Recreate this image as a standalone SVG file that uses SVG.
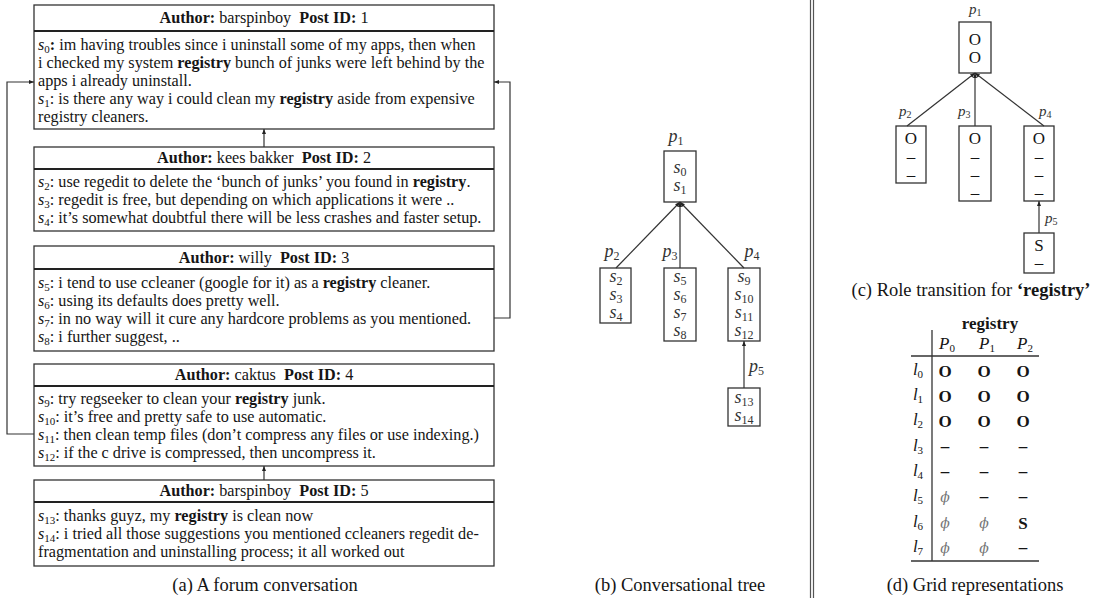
<svg xmlns="http://www.w3.org/2000/svg" width="1097" height="598" viewBox="0 0 1097 598">
<style>
text{font-family:"Liberation Serif","Times New Roman",serif;fill:#151515}
.t{font-size:16.2px}
.h{font-size:16.2px;text-anchor:middle}
.b{font-weight:bold}
.i{font-style:italic}
.sub{font-size:11px}
.box{fill:#fff;stroke:#333;stroke-width:1.3}
.sep{stroke:#222;stroke-width:2}
.cap{font-size:18.5px;text-anchor:middle}
.m{font-size:18px;font-style:italic;text-anchor:middle;fill:#333}
.ms{font-size:12px;font-style:normal}
.pl{font-size:18px;font-style:italic;fill:#333}
.pc{font-size:15px;font-style:italic;fill:#333}
.pcs{font-size:10px;font-style:normal}
.r{font-size:17px;text-anchor:middle}
.c{font-size:17px;text-anchor:middle}
.ph{fill:#777;font-style:italic;font-family:"DejaVu Serif","Liberation Serif",serif;font-size:14px}
.conn{fill:none;stroke:#333;stroke-width:1.2}
.tl{stroke:#333;stroke-width:1.3}
</style>
<defs>
<marker id="ah" viewBox="0 0 10 10" refX="10" refY="5" markerWidth="5" markerHeight="5" orient="auto" markerUnits="userSpaceOnUse"><path d="M0,1 L10,5 L0,9 z" fill="#222"/></marker>
</defs>

<!-- separator -->
<g id="separator"><line x1="810.5" y1="0" x2="810.5" y2="598" stroke="#555" stroke-width="1.2"/><line x1="813.5" y1="0" x2="813.5" y2="598" stroke="#555" stroke-width="1.2"/></g>

<!-- (a) forum conversation -->
<g id="post1">
<rect class="box" x="34" y="5" width="460" height="124"/>
<line class="sep" x1="34" y1="31" x2="494" y2="31"/>
<text class="h" x="264" y="23"><tspan class="b">Author:</tspan> barspinboy&#160; <tspan class="b">Post ID:</tspan> 1</text>
<text class="t" x="38" y="50"><tspan class="i">s</tspan><tspan class="sub" dy="3">0</tspan><tspan class="b" dy="-3">:</tspan> im having troubles since i uninstall some of my apps, then when</text>
<text class="t" x="38" y="68">i checked my system <tspan class="b">registry</tspan> bunch of junks were left behind by the</text>
<text class="t" x="38" y="86">apps i already uninstall.</text>
<text class="t" x="38" y="104"><tspan class="i">s</tspan><tspan class="sub" dy="3">1</tspan><tspan dy="-3">:</tspan> is there any way i could clean my <tspan class="b">registry</tspan> aside from expensive</text>
<text class="t" x="38" y="122">registry cleaners.</text>
</g>

<g id="post2">
<rect class="box" x="34" y="147" width="460" height="84"/>
<line class="sep" x1="34" y1="169" x2="494" y2="169"/>
<text class="h" x="264" y="163"><tspan class="b">Author:</tspan> kees bakker&#160; <tspan class="b">Post ID:</tspan> 2</text>
<text class="t" x="38" y="187"><tspan class="i">s</tspan><tspan class="sub" dy="3">2</tspan><tspan dy="-3">:</tspan> use regedit to delete the ‘bunch of junks’ you found in <tspan class="b">registry</tspan>.</text>
<text class="t" x="38" y="205"><tspan class="i">s</tspan><tspan class="sub" dy="3">3</tspan><tspan dy="-3">:</tspan> regedit is free, but depending on which applications it were ..</text>
<text class="t" x="38" y="223"><tspan class="i">s</tspan><tspan class="sub" dy="3">4</tspan><tspan dy="-3">:</tspan> it’s somewhat doubtful there will be less crashes and faster setup.</text>
</g>

<g id="post3">
<rect class="box" x="34" y="246" width="460" height="105"/>
<line class="sep" x1="34" y1="269" x2="494" y2="269"/>
<text class="h" x="264" y="263"><tspan class="b">Author:</tspan> willy&#160; <tspan class="b">Post ID:</tspan> 3</text>
<text class="t" x="38" y="288"><tspan class="i">s</tspan><tspan class="sub" dy="3">5</tspan><tspan dy="-3">:</tspan> i tend to use ccleaner (google for it) as a <tspan class="b">registry</tspan> cleaner.</text>
<text class="t" x="38" y="306"><tspan class="i">s</tspan><tspan class="sub" dy="3">6</tspan><tspan dy="-3">:</tspan> using its defaults does pretty well.</text>
<text class="t" x="38" y="324"><tspan class="i">s</tspan><tspan class="sub" dy="3">7</tspan><tspan dy="-3">:</tspan> in no way will it cure any hardcore problems as you mentioned.</text>
<text class="t" x="38" y="342"><tspan class="i">s</tspan><tspan class="sub" dy="3">8</tspan><tspan dy="-3">:</tspan> i further suggest, ..</text>
</g>

<g id="post4">
<rect class="box" x="34" y="364" width="460" height="102"/>
<line class="sep" x1="34" y1="386" x2="494" y2="386"/>
<text class="h" x="264" y="380"><tspan class="b">Author:</tspan> caktus&#160; <tspan class="b">Post ID:</tspan> 4</text>
<text class="t" x="38" y="404"><tspan class="i">s</tspan><tspan class="sub" dy="3">9</tspan><tspan dy="-3">:</tspan> try regseeker to clean your <tspan class="b">registry</tspan> junk.</text>
<text class="t" x="38" y="422"><tspan class="i">s</tspan><tspan class="sub" dy="3">10</tspan><tspan dy="-3">:</tspan> it’s free and pretty safe to use automatic.</text>
<text class="t" x="38" y="440"><tspan class="i">s</tspan><tspan class="sub" dy="3">11</tspan><tspan dy="-3">:</tspan> then clean temp files (don’t compress any files or use indexing.)</text>
<text class="t" x="38" y="458"><tspan class="i">s</tspan><tspan class="sub" dy="3">12</tspan><tspan dy="-3">:</tspan> if the c drive is compressed, then uncompress it.</text>
</g>

<g id="post5">
<rect class="box" x="34" y="480" width="460" height="86"/>
<line class="sep" x1="34" y1="502" x2="494" y2="502"/>
<text class="h" x="264" y="496"><tspan class="b">Author:</tspan> barspinboy&#160; <tspan class="b">Post ID:</tspan> 5</text>
<text class="t" x="38" y="521"><tspan class="i">s</tspan><tspan class="sub" dy="3">13</tspan><tspan dy="-3">:</tspan> thanks guyz, my <tspan class="b">registry</tspan> is clean now</text>
<text class="t" x="38" y="539"><tspan class="i">s</tspan><tspan class="sub" dy="3">14</tspan><tspan dy="-3">:</tspan> i tried all those suggestions you mentioned ccleaners regedit de-</text>
<text class="t" x="38" y="557">fragmentation and uninstalling process; it all worked out</text>
</g>

<g id="connectors-a">
<line class="conn" x1="264" y1="147" x2="264" y2="129" marker-end="url(#ah)"/>
<line class="conn" x1="264" y1="480" x2="264" y2="466" marker-end="url(#ah)"/>
<path class="conn" d="M34,434 H7 V82 H34" marker-end="url(#ah)"/>
<path class="conn" d="M494,318 H510 V82 H494" marker-end="url(#ah)"/>
</g>
<text class="cap" x="265" y="591">(a) A forum conversation</text>

<!-- (b) conversational tree -->
<g id="tb-p1">
<text class="m" x="676" y="142">p<tspan class="ms" dy="3">1</tspan></text>
<rect class="box" x="664" y="151" width="32" height="51"/>
<text class="m" x="680" y="173">s<tspan class="ms" dy="3">0</tspan></text>
<text class="m" x="680" y="191">s<tspan class="ms" dy="3">1</tspan></text>
</g>
<g id="tb-p2">
<text class="m" x="612" y="257">p<tspan class="ms" dy="3">2</tspan></text>
<rect class="box" x="600" y="268" width="31" height="55"/>
<text class="m" x="616" y="282">s<tspan class="ms" dy="3">2</tspan></text>
<text class="m" x="616" y="300">s<tspan class="ms" dy="3">3</tspan></text>
<text class="m" x="616" y="318">s<tspan class="ms" dy="3">4</tspan></text>
</g>
<g id="tb-p3">
<text class="m" x="670" y="257">p<tspan class="ms" dy="3">3</tspan></text>
<rect class="box" x="664" y="268" width="32" height="73"/>
<text class="m" x="680" y="282">s<tspan class="ms" dy="3">5</tspan></text>
<text class="m" x="680" y="300">s<tspan class="ms" dy="3">6</tspan></text>
<text class="m" x="680" y="318">s<tspan class="ms" dy="3">7</tspan></text>
<text class="m" x="680" y="336">s<tspan class="ms" dy="3">8</tspan></text>
</g>
<g id="tb-p4">
<text class="m" x="752" y="257">p<tspan class="ms" dy="3">4</tspan></text>
<rect class="box" x="728" y="268" width="32" height="73"/>
<text class="m" x="744" y="282">s<tspan class="ms" dy="3">9</tspan></text>
<text class="m" x="744" y="300">s<tspan class="ms" dy="3">10</tspan></text>
<text class="m" x="744" y="318">s<tspan class="ms" dy="3">11</tspan></text>
<text class="m" x="744" y="336">s<tspan class="ms" dy="3">12</tspan></text>
</g>
<g id="tb-p5">
<text class="pl" x="749" y="372">p<tspan class="ms" dy="3">5</tspan></text>
<rect class="box" x="728" y="388" width="32" height="38"/>
<text class="m" x="744" y="403">s<tspan class="ms" dy="3">13</tspan></text>
<text class="m" x="744" y="421">s<tspan class="ms" dy="3">14</tspan></text>
</g>
<g id="connectors-b">
<line class="conn" x1="616" y1="268" x2="680" y2="202" marker-end="url(#ah)"/>
<line class="conn" x1="680" y1="268" x2="680" y2="202" marker-end="url(#ah)"/>
<line class="conn" x1="744" y1="268" x2="680" y2="202" marker-end="url(#ah)"/>
<line class="conn" x1="744" y1="388" x2="744" y2="341" marker-end="url(#ah)"/>
</g>
<text class="cap" x="680" y="591">(b) Conversational tree</text>

<!-- (c) role transition -->
<g id="tc-p1">
<text class="pc" x="969" y="14">p<tspan class="pcs" dy="2">1</tspan></text>
<rect class="box" x="959" y="22" width="32" height="51"/>
<text class="c" x="975" y="45">O</text>
<text class="c" x="975" y="63">O</text>
</g>
<g id="tc-p2">
<text class="pc" x="899" y="116">p<tspan class="pcs" dy="2">2</tspan></text>
<rect class="box" x="896" y="126" width="30" height="57"/>
<text class="c" x="911" y="144">O</text>
<text class="c" x="911" y="162">–</text>
<text class="c" x="911" y="180">–</text>
</g>
<g id="tc-p3">
<text class="pc" x="958" y="116">p<tspan class="pcs" dy="2">3</tspan></text>
<rect class="box" x="959" y="126" width="32" height="75"/>
<text class="c" x="975" y="144">O</text>
<text class="c" x="975" y="162">–</text>
<text class="c" x="975" y="180">–</text>
<text class="c" x="975" y="198">–</text>
</g>
<g id="tc-p4">
<text class="pc" x="1039" y="116">p<tspan class="pcs" dy="2">4</tspan></text>
<rect class="box" x="1024" y="126" width="30" height="75"/>
<text class="c" x="1039" y="144">O</text>
<text class="c" x="1039" y="162">–</text>
<text class="c" x="1039" y="180">–</text>
<text class="c" x="1039" y="198">–</text>
</g>
<g id="tc-p5">
<text class="pc" x="1045" y="223">p<tspan class="pcs" dy="2">5</tspan></text>
<rect class="box" x="1024" y="233" width="30" height="40"/>
<text class="c" x="1039" y="251">S</text>
<text class="c" x="1039" y="268">–</text>
</g>
<g id="connectors-c">
<line class="conn" x1="907" y1="126" x2="975" y2="73" marker-end="url(#ah)"/>
<line class="conn" x1="975" y1="126" x2="975" y2="73" marker-end="url(#ah)"/>
<line class="conn" x1="1044" y1="126" x2="975" y2="73" marker-end="url(#ah)"/>
<line class="conn" x1="1039" y1="233" x2="1039" y2="201" marker-end="url(#ah)"/>
</g>
<text class="cap" x="971" y="296">(c) Role transition for <tspan class="b">‘registry’</tspan></text>

<!-- (d) grid -->
<g id="grid">
<text class="r b" x="990" y="329">registry</text>
<text class="r i" x="947" y="349">P<tspan class="sub" font-style="normal" dy="3">0</tspan></text>
<text class="r i" x="987" y="349">P<tspan class="sub" font-style="normal" dy="3">1</tspan></text>
<text class="r i" x="1025" y="349">P<tspan class="sub" font-style="normal" dy="3">2</tspan></text>
<line class="tl" x1="911" y1="356" x2="1039" y2="356"/>
<line class="tl" x1="911" y1="561" x2="1039" y2="561"/>
<line class="tl" x1="932" y1="330" x2="932" y2="561"/>
<g class="rows">
<text class="r i" x="918" y="375">l<tspan class="sub" font-style="normal" dy="3">0</tspan></text>
<text class="r i" x="918" y="400">l<tspan class="sub" font-style="normal" dy="3">1</tspan></text>
<text class="r i" x="918" y="425">l<tspan class="sub" font-style="normal" dy="3">2</tspan></text>
<text class="r i" x="918" y="451">l<tspan class="sub" font-style="normal" dy="3">3</tspan></text>
<text class="r i" x="918" y="476">l<tspan class="sub" font-style="normal" dy="3">4</tspan></text>
<text class="r i" x="918" y="501">l<tspan class="sub" font-style="normal" dy="3">5</tspan></text>
<text class="r i" x="918" y="527">l<tspan class="sub" font-style="normal" dy="3">6</tspan></text>
<text class="r i" x="918" y="552">l<tspan class="sub" font-style="normal" dy="3">7</tspan></text>
</g>
<g class="cells">
<text class="r b" x="945" y="377">O</text><text class="r b" x="984" y="377">O</text><text class="r b" x="1023" y="377">O</text>
<text class="r b" x="945" y="402">O</text><text class="r b" x="984" y="402">O</text><text class="r b" x="1023" y="402">O</text>
<text class="r b" x="945" y="427">O</text><text class="r b" x="984" y="427">O</text><text class="r b" x="1023" y="427">O</text>
<text class="r b" x="945" y="452">–</text><text class="r b" x="984" y="452">–</text><text class="r b" x="1023" y="452">–</text>
<text class="r b" x="945" y="477">–</text><text class="r b" x="984" y="477">–</text><text class="r b" x="1023" y="477">–</text>
<text class="r ph" x="945" y="502">ϕ</text><text class="r b" x="984" y="502">–</text><text class="r b" x="1023" y="502">–</text>
<text class="r ph" x="945" y="528">ϕ</text><text class="r ph" x="984" y="528">ϕ</text><text class="r b" x="1023" y="529">S</text>
<text class="r ph" x="945" y="553">ϕ</text><text class="r ph" x="984" y="553">ϕ</text><text class="r b" x="1023" y="553">–</text>
</g>
</g>
<text class="cap" x="975" y="591">(d) Grid representations</text>
</svg>
